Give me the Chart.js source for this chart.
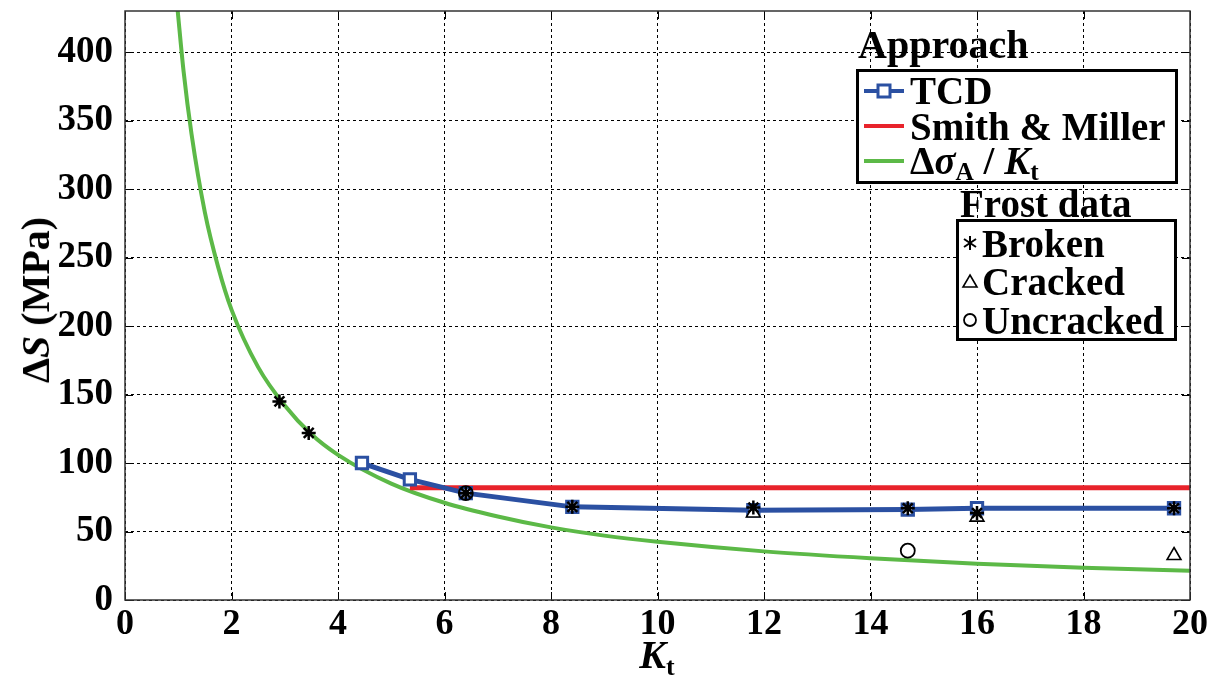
<!DOCTYPE html>
<html>
<head>
<meta charset="utf-8">
<script src="https://cdn.jsdelivr.net/npm/chart.js@4/dist/chart.umd.min.js"></script>
<style>
  body { margin: 0; background: #fff; }
  #wrap { position: relative; width: 1219px; height: 676px; font-family: "Liberation Serif", serif; font-weight: bold; color: #000; }
  canvas { position: absolute; left: 0; top: 0; }
  .t { position: absolute; white-space: nowrap; line-height: 1; }
  .box { position: absolute; border: 3px solid #000; background: #fff; box-sizing: border-box; }
  sub { font-size: 0.65em; vertical-align: -0.25em; line-height: 0; }
  i { font-style: italic; }
</style>
</head>
<body>
<div id="wrap">
  <canvas id="chart" width="1219" height="676"></canvas>

  <div class="t" style="left:858px;top:25px;font-size:40px;">Approach</div>
  <div class="box" style="left:856px;top:69px;width:322px;height:115px;"></div>
  <svg style="position:absolute;left:862px;top:80px;" width="44" height="100">
    <line x1="2" y1="11" x2="42" y2="11" stroke="#2b50a2" stroke-width="4"/>
    <rect x="16" y="5" width="12" height="12" fill="#fff" stroke="#2b50a2" stroke-width="3"/>
    <line x1="2" y1="46" x2="42" y2="46" stroke="#e8232b" stroke-width="4"/>
    <line x1="2" y1="81" x2="42" y2="81" stroke="#5cb947" stroke-width="4"/>
  </svg>
  <div class="t" style="left:910px;top:71px;font-size:39px;">TCD</div>
  <div class="t" style="left:910px;top:107px;font-size:39px;">Smith &amp; Miller</div>
  <div class="t" style="left:910px;top:141px;font-size:39px;">&Delta;<i>&sigma;</i><sub>A</sub> / <i>K</i><sub>t</sub></div>

  <div class="t" style="left:960px;top:184px;font-size:39px;">Frost data</div>
  <div class="box" style="left:956px;top:219px;width:221px;height:122px;"></div>
  <svg style="position:absolute;left:960px;top:230px;" width="22" height="105">
    <g stroke="#000" stroke-width="2">
      <line x1="10" y1="6" x2="10" y2="20"/>
      <line x1="4" y1="9" x2="16" y2="17"/>
      <line x1="4" y1="17" x2="16" y2="9"/>
    </g>
    <polygon points="10,45 17,57 3,57" fill="#fff" stroke="#000" stroke-width="1.6"/>
    <circle cx="10" cy="90" r="6" fill="#fff" stroke="#000" stroke-width="1.8"/>
  </svg>
  <div class="t" style="left:982px;top:224px;font-size:39px;">Broken</div>
  <div class="t" style="left:982px;top:262px;font-size:39px;">Cracked</div>
  <div class="t" style="left:982px;top:301px;font-size:39px;">Uncracked</div>

  <div class="t" style="left:36px;top:300px;font-size:40px;transform:translate(-50%,-50%) rotate(-90deg);">&Delta;<i>S</i> (MPa)</div>
  <div class="t" style="left:657px;top:655px;font-size:40px;transform:translate(-50%,-50%);"><i>K</i><sub>t</sub></div>
</div>

<script>
// green curve
const curveKt = [0.98, 1.1, 1.25, 1.5, 1.75, 2, 2.5, 3, 3.5, 4, 5, 6, 7, 8, 9, 10, 12, 14, 16, 18, 20];
const curveS = [434, 386, 340, 283, 243, 212, 170, 142, 121, 106, 85, 71, 61, 53, 47, 42.5, 35.5, 30.5, 26.5, 23.5, 21.3];

// TCD
const tcdKt = [4.45, 5.35, 6.4, 8.4, 11.8, 14.7, 16.0, 19.7];
const tcdS = [100, 88, 78, 68, 65.5, 66, 67, 67];

// Smith & Miller
const smKt = [5.35, 20];
const smS = [82, 82];

// Frost data
const brokenKt = [2.9, 3.45, 6.4, 8.4, 11.8, 14.7, 16.0, 19.7];
const brokenS = [145, 122, 78, 68, 67.5, 67, 63.5, 67];
const crackedKt = [11.8, 16.0, 19.7];
const crackedS = [63.5, 60.5, 32.5];
const uncrackedKt = [6.4, 14.7];
const uncrackedS = [78, 36];

const xTicks = [0, 2, 4, 6, 8, 10, 12, 14, 16, 18, 20];
const yTicks = [0, 50, 100, 150, 200, 250, 300, 350, 400];

const pts = (xs, ys) => xs.map((x, i) => ({ x: x, y: ys[i] }));

const framePlugin = {
  id: "frame",
  afterDraw(chart) {
    const { ctx, chartArea: a, scales } = chart;
    ctx.save();
    ctx.strokeStyle = "#000";
    ctx.lineWidth = 1;
    ctx.beginPath();
    xTicks.forEach(v => {
      const px = Math.round(scales.x.getPixelForValue(v)) + 0.5;
      ctx.moveTo(px, a.bottom); ctx.lineTo(px, a.bottom - 8);
      ctx.moveTo(px, a.top); ctx.lineTo(px, a.top + 8);
    });
    yTicks.forEach(v => {
      const py = Math.round(scales.y.getPixelForValue(v)) + 0.5;
      ctx.moveTo(a.left, py); ctx.lineTo(a.left + 8, py);
      ctx.moveTo(a.right, py); ctx.lineTo(a.right - 8, py);
    });
    ctx.stroke();
    ctx.lineWidth = 1.5;
    ctx.strokeStyle = "#333";
    ctx.strokeRect(a.left, a.top, a.right - a.left, a.bottom - a.top);
    ctx.restore();
  }
};

new Chart(document.getElementById("chart").getContext("2d"), {
  type: "scatter",
  data: {
    datasets: [
      {
        label: "Broken",
        data: pts(brokenKt, brokenS),
        pointStyle: "star",
        pointRadius: 7,
        pointBorderWidth: 2.5,
        borderColor: "#000",
        backgroundColor: "#000",
        order: 0,
      },
      {
        label: "Cracked",
        data: pts(crackedKt, crackedS),
        pointStyle: "triangle",
        pointRadius: 8,
        pointBorderWidth: 1.6,
        borderColor: "#000",
        backgroundColor: "#fff",
        order: 0,
      },
      {
        label: "Uncracked",
        data: pts(uncrackedKt, uncrackedS),
        pointStyle: "circle",
        pointRadius: 7,
        pointBorderWidth: 1.8,
        borderColor: "#000",
        backgroundColor: "rgba(255,255,255,0)",
        order: 0,
      },
      {
        label: "TCD",
        data: pts(tcdKt, tcdS),
        showLine: true,
        borderColor: "#2b50a2",
        borderWidth: 5,
        pointStyle: "rect",
        pointRadius: 8,
        pointBorderWidth: 3,
        pointBackgroundColor: "#fff",
        pointBorderColor: "#2b50a2",
        tension: 0,
        order: 1,
      },
      {
        label: "Smith & Miller",
        data: pts(smKt, smS),
        showLine: true,
        borderColor: "#e8232b",
        borderWidth: 5,
        pointRadius: 0,
        order: 2,
      },
      {
        label: "curve",
        data: pts(curveKt, curveS),
        showLine: true,
        borderColor: "#5cb947",
        borderWidth: 4,
        pointRadius: 0,
        cubicInterpolationMode: "monotone",
        order: 3,
      },
    ],
  },
  options: {
    responsive: false,
    animation: false,
    layout: { padding: { top: 10, right: 29, left: 0, bottom: 0 } },
    plugins: { legend: { display: false }, tooltip: { enabled: false } },
    scales: {
      x: {
        type: "linear",
        min: 0,
        max: 20,
        afterFit: s => { s.height = 76; s.paddingLeft = 0; s.paddingRight = 0; },
        afterBuildTicks: s => { s.ticks = xTicks.map(v => ({ value: v })); },
        ticks: {
          color: "#000",
          padding: 3,
          font: { family: "Liberation Serif", weight: "bold", size: 36 },
        },
        grid: { color: "#000", lineWidth: 1, drawTicks: false },
        border: { display: false, dash: [3, 3] },
      },
      y: {
        min: 0,
        max: 430,
        afterFit: s => { s.width = 125; s.paddingTop = 0; s.paddingBottom = 0; },
        afterBuildTicks: s => { s.ticks = yTicks.map(v => ({ value: v })); },
        ticks: {
          color: "#000",
          padding: 12,
          font: { family: "Liberation Serif", weight: "bold", size: 37 },
        },
        grid: { color: "#000", lineWidth: 1, drawTicks: false },
        border: { display: false, dash: [3, 3] },
      },
    },
  },
  plugins: [framePlugin],
});
</script>
</body>
</html>
